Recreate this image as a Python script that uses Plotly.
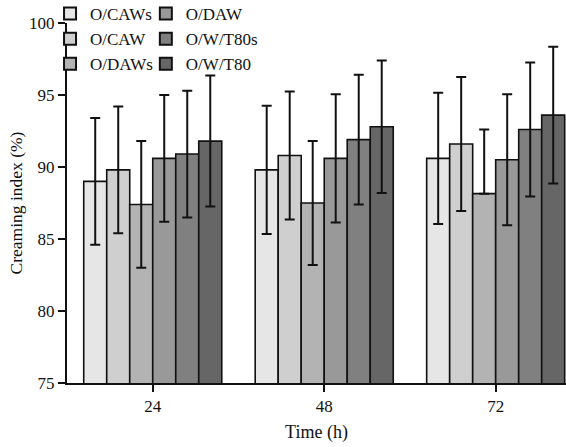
import plotly.graph_objects as go

# Storage time (h) and creaming index (%) per emulsion
times = ["24", "48", "72"]
series_names = ["O/CAWs", "O/CAW", "O/DAWs", "O/DAW", "O/W/T80s", "O/W/T80"]
o_caws = [89.0, 89.8, 90.6]
o_caw = [89.8, 90.8, 91.6]
o_daws = [87.4, 87.5, 88.15]
o_daw = [90.6, 90.6, 90.5]
o_w_t80s = [90.9, 91.9, 92.6]
o_w_t80 = [91.8, 92.8, 93.6]

err_caws = [4.4, 4.45, 4.55]
err_caw = [4.4, 4.45, 4.65]
err_daws = [4.4, 4.3, 4.45]
err_daws_minus = [4.4, 4.3, 0.0]
err_daw = [4.4, 4.45, 4.55]
err_t80s = [4.4, 4.5, 4.65]
err_t80 = [4.55, 4.6, 4.75]

fills = ["#e6e6e6", "#cfcfcf", "#b3b3b3", "#999999", "#808080", "#666666"]

values = [o_caws, o_caw, o_daws, o_daw, o_w_t80s, o_w_t80]
errs_plus = [err_caws, err_caw, err_daws, err_daw, err_t80s, err_t80]
errs_minus = [err_caws, err_caw, err_daws_minus, err_daw, err_t80s, err_t80]
legend_ids = ["legend", "legend", "legend", "legend2", "legend2", "legend2"]

FONT = "Liberation Serif, Times New Roman, serif"

fig = go.Figure()
for name, vals, ep, em, col, lg in zip(series_names, values, errs_plus, errs_minus, fills, legend_ids):
    fig.add_trace(go.Bar(
        x=times, y=vals, name=name, legend=lg,
        marker=dict(color=col, line=dict(color="#111111", width=1.6)),
        error_y=dict(type="data", symmetric=False, array=ep, arrayminus=em,
                     color="#111111", thickness=2, width=5),
    ))

legend_common = dict(
    font=dict(family=FONT, size=17, color="#111111"),
    bgcolor="rgba(0,0,0,0)", borderwidth=0,
    orientation="v", yanchor="top", xanchor="left",
    itemsizing="constant", tracegroupgap=0,
)

fig.update_layout(
    width=566, height=447,
    margin=dict(l=67, r=0, t=23, b=64, autoexpand=False),
    paper_bgcolor="white", plot_bgcolor="white",
    barmode="group", bargap=0.195, bargroupgap=0,
    font=dict(family=FONT, size=17, color="#111111"),
    showlegend=True,
    legend=dict(x=-0.034, y=1.075, **legend_common),
    legend2=dict(x=0.158, y=1.075, **legend_common),
    xaxis=dict(
        type="category", range=[-0.5, 2.41],
        showline=True, linecolor="#111111", linewidth=2,
        ticks="outside", ticklen=7, tickwidth=1.5, tickcolor="#111111",
        showgrid=False, zeroline=False, automargin=False,
        tickfont=dict(family=FONT, size=17),
        title=dict(text="Time (h)", font=dict(family=FONT, size=18), standoff=10),
    ),
    yaxis=dict(
        range=[75, 100], tickvals=[75, 80, 85, 90, 95, 100],
        showline=True, linecolor="#111111", linewidth=2,
        ticks="outside", ticklen=7, tickwidth=1.5, tickcolor="#111111",
        showgrid=False, zeroline=False, automargin=False,
        tickfont=dict(family=FONT, size=17),
        title=dict(text="Creaming index (%)", font=dict(family=FONT, size=17.5), standoff=2),
    ),
)

fig.write_html("out.html")
